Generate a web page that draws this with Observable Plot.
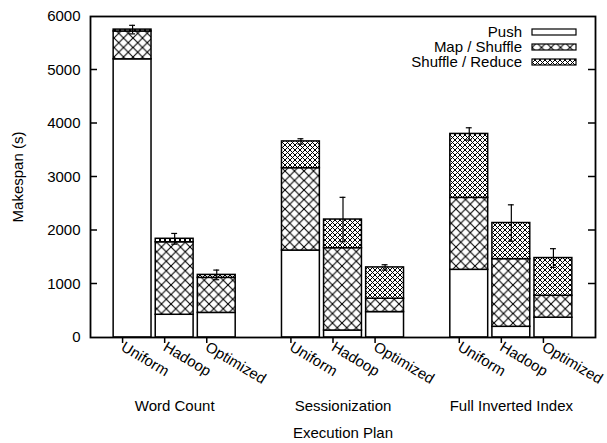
<!DOCTYPE html>
<html><head><meta charset="utf-8">
<script src="https://cdn.jsdelivr.net/npm/d3@7"></script>
<script src="https://cdn.jsdelivr.net/npm/@observablehq/plot@0.6"></script>
<style>
body{margin:0;background:#fff}
#chart{position:relative;width:607px;height:443px}
</style>
</head><body><div id="chart"></div>
<script>
// ---- data ----
const workloads = ["Word Count", "Sessionization", "Full Inverted Index"];
const plans = ["Uniform", "Hadoop", "Optimized"];
const phases = ["Push", "Map / Shuffle", "Shuffle / Reduce"];
// ordered: workload-major, plan-minor
const pushValues         = [5200, 425, 460,  1625, 130, 475,  1265, 200, 370];
const mapShuffleValues   = [ 520, 1355, 655, 1540, 1540, 250, 1345, 1265, 410];
const shuffleReduceValues= [  35,   65,  55,  500,  535, 585, 1195,  675, 705];
const errorValues        = [  80,  100,  90,   50,  415,  50,  115,  340, 175];
const yTicks = [0, 1000, 2000, 3000, 4000, 5000, 6000];

const phaseValues = [pushValues, mapShuffleValues, shuffleReduceValues];
const phaseFill = {"Push": "#fff", "Map / Shuffle": "url(#hatchSparse)", "Shuffle / Reduce": "url(#hatchDense)"};

const segments = [];
const bars = [];
workloads.forEach((w, wi) => {
  plans.forEach((p, pi) => {
    const k = wi * 3 + pi;
    const slot = wi * 4 + pi;
    let acc = 0;
    phases.forEach((ph, hi) => {
      const v = phaseValues[hi][k];
      segments.push({workload: w, plan: p, phase: ph, slot, y1: acc, y2: acc + v});
      acc += v;
    });
    bars.push({workload: w, plan: p, slot, total: acc, err: errorValues[k]});
  });
});
const slots = bars.map(d => d.slot);
const groupCenters = workloads.map((w, i) => ({name: w, slot: i * 4 + 1}));

const font = "'Liberation Sans', Arial, Helvetica, sans-serif";
const W = 607, H = 443, mL = 90, mR = 12, mT = 16, mB = 106;
const tickLen = 7;

const plot = Plot.plot({
  width: W, height: H,
  marginTop: mT, marginLeft: mL, marginRight: mR, marginBottom: mB,
  style: {fontFamily: font, fontSize: "15px", color: "#000", background: "#fff", overflow: "visible"},
  x: {type: "linear", domain: [-1, 11]},
  y: {domain: [0, 6000]},
  marks: [
    Plot.rectY(segments, {
      x1: d => d.slot - 0.45, x2: d => d.slot + 0.45, y1: "y1", y2: "y2",
      fill: d => phaseFill[d.phase], stroke: "#000", strokeWidth: 1.5
    }),
    Plot.ruleX(bars, {x: "slot", y1: d => d.total - d.err, y2: d => d.total + d.err, stroke: "#000", strokeWidth: 1.2}),
    Plot.ruleY(bars, {x1: d => d.slot - 0.07, x2: d => d.slot + 0.07, y: d => d.total + d.err, stroke: "#000", strokeWidth: 1.2}),
    Plot.ruleY(bars, {x1: d => d.slot - 0.07, x2: d => d.slot + 0.07, y: d => d.total - d.err, stroke: "#000", strokeWidth: 1.2}),
    Plot.axisY({ticks: yTicks, tickSize: 0, tickPadding: 10, tickFormat: d => String(d),
      label: "Makespan (s)", labelAnchor: "center", labelArrow: "none", labelOffset: 78}),
    Plot.axisX({ticks: slots, tickFormat: s => plans[s % 4], tickRotate: 31, tickSize: 6, strokeWidth: 1.5,
      tickPadding: 2, dx: -10, label: null}),
    Plot.text(groupCenters, {x: "slot", text: "name", frameAnchor: "bottom", dy: 73, fontSize: 15}),
    Plot.text(["Execution Plan"], {x: () => 5, text: d => d, frameAnchor: "bottom", dy: 100, fontSize: 15}),
    Plot.frame({stroke: "#000", strokeWidth: 1.8})
  ]
});

// inward ticks on the left and right borders, positioned with the plot's own y scale
const yScale = plot.scale("y");
const tickG = d3.select(plot).append("g").attr("stroke", "#000").attr("stroke-width", 1.5);
yTicks.slice(1, -1).forEach(v => {
  const yy = yScale.apply(v);
  tickG.append("line").attr("x1", mL).attr("x2", mL + tickLen).attr("y1", yy).attr("y2", yy);
  tickG.append("line").attr("x1", W - mR - tickLen).attr("x2", W - mR).attr("y1", yy).attr("y2", yy);
});

// pattern defs
const svgns = "http://www.w3.org/2000/svg";
const defs = document.createElementNS(svgns, "defs");
defs.innerHTML = `
<pattern id="hatchSparse" patternUnits="userSpaceOnUse" width="9.5" height="9.5">
  <rect width="9.5" height="9.5" fill="#fff"/>
  <path d="M0,0L9.5,9.5M9.5,0L0,9.5" stroke="#000" stroke-width="1.1"/>
</pattern>
<pattern id="hatchDense" patternUnits="userSpaceOnUse" width="5" height="5">
  <rect width="5" height="5" fill="#fff"/>
  <path d="M0,0L5,5M5,0L0,5" stroke="#000" stroke-width="1"/>
</pattern>`;
plot.insertBefore(defs, plot.firstChild);

// legend (inside top-right of frame)
const legend = d3.select(plot).append("g").attr("font-family", font).attr("font-size", 15);
phases.forEach((ph, i) => {
  const cy = 32 + i * 15;
  legend.append("text").attr("x", 522).attr("y", cy).attr("dy", "0.35em").attr("text-anchor", "end").text(ph);
  legend.append("rect").attr("x", 532).attr("y", cy - 3).attr("width", 44).attr("height", 6)
    .attr("fill", phaseFill[ph]).attr("stroke", "#000").attr("stroke-width", 1.2);
});

document.getElementById("chart").appendChild(plot);
</script>
</body></html>
